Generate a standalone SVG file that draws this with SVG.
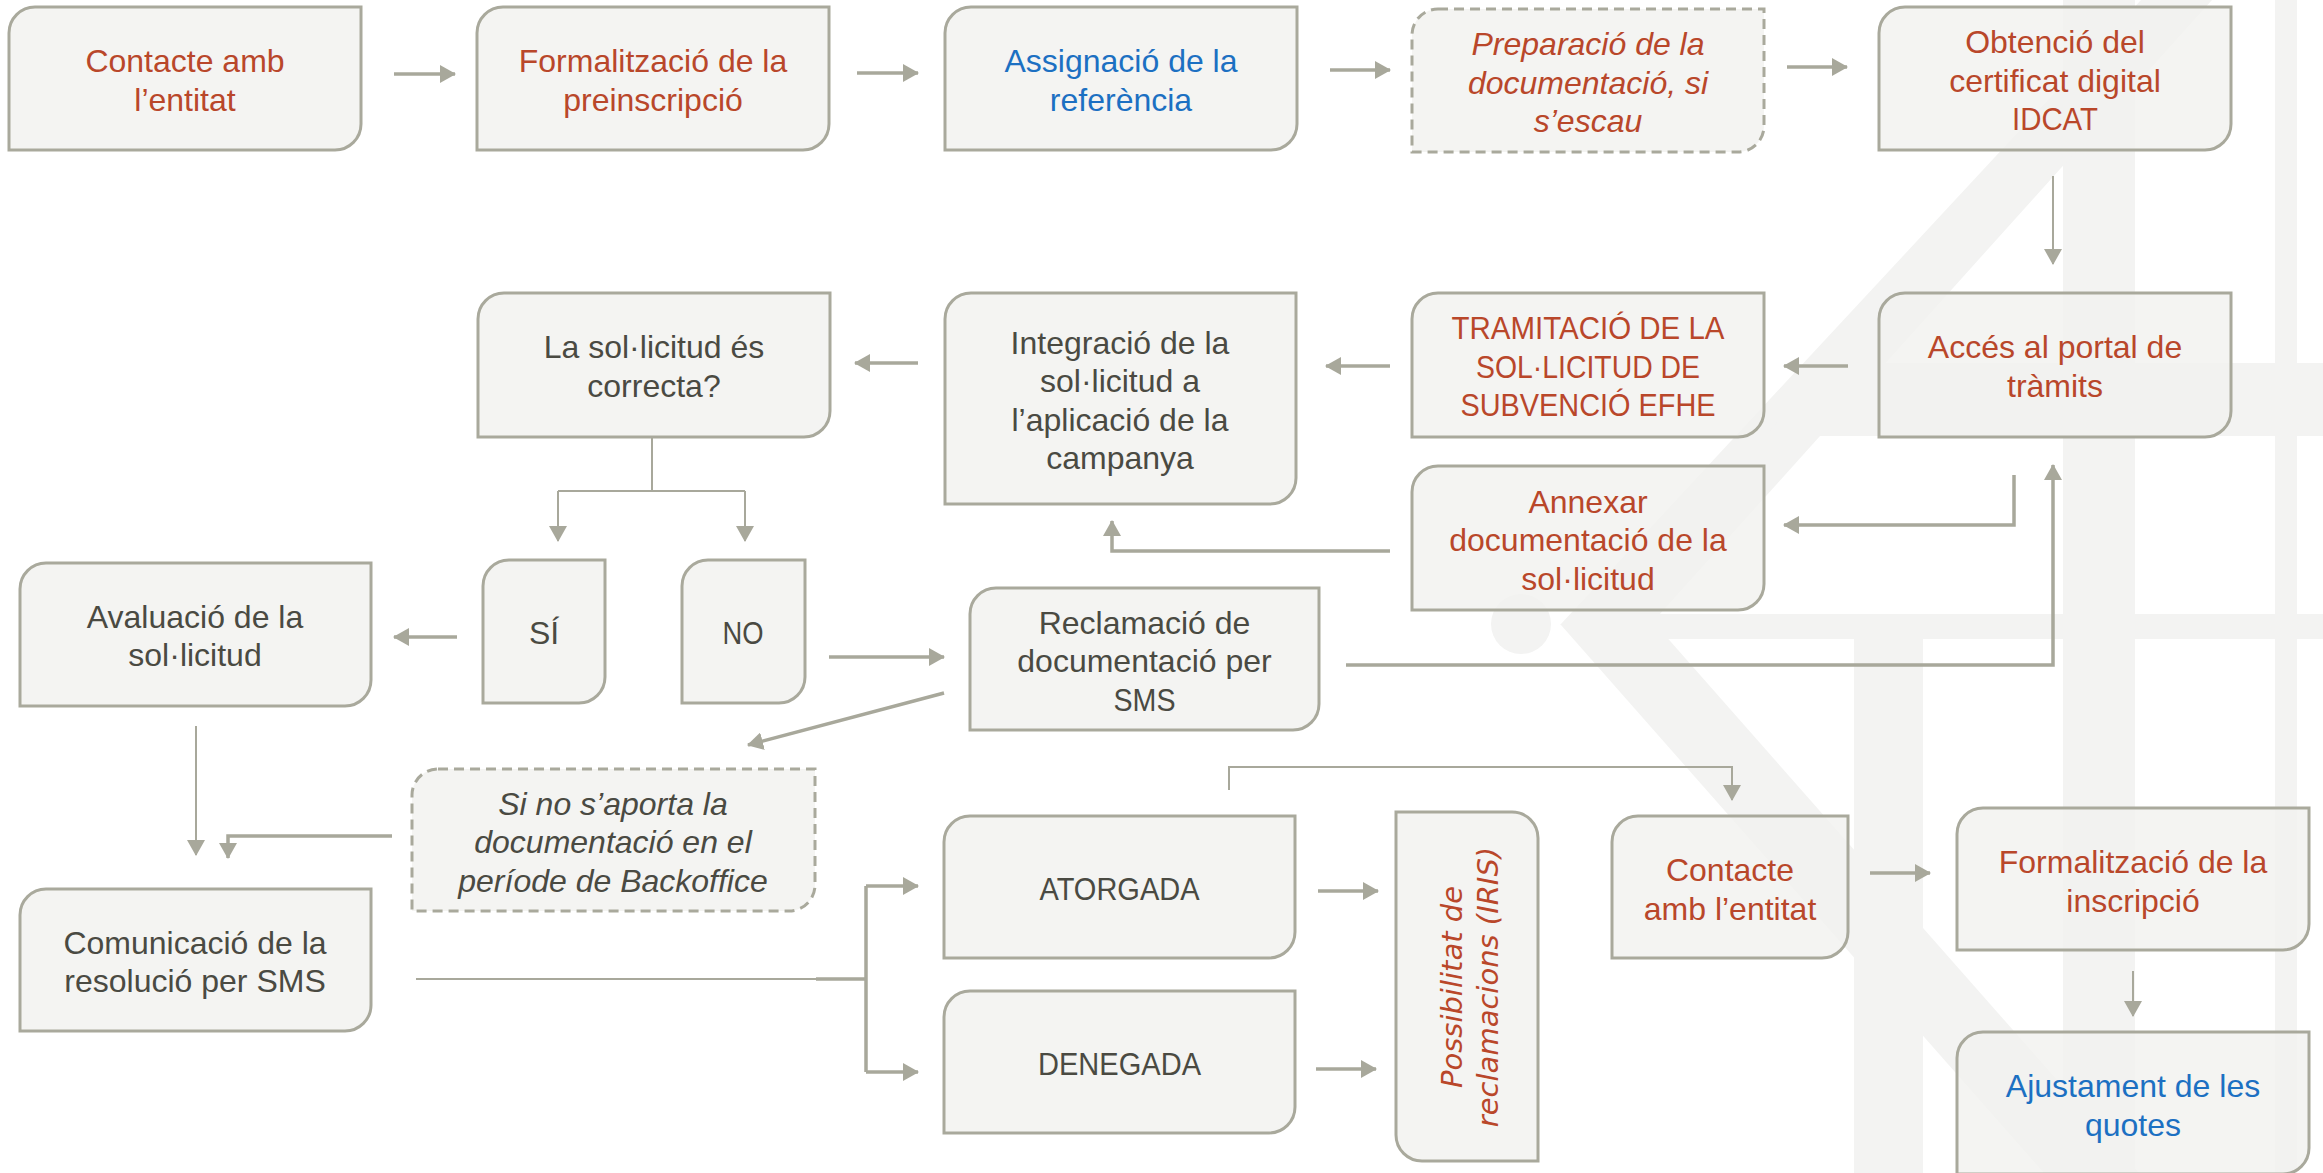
<svg xmlns="http://www.w3.org/2000/svg" width="2323" height="1173" viewBox="0 0 2323 1173">
<defs>
<style>
.bx{fill:#f2f2ef;fill-opacity:0.82;stroke:#a9a99c;stroke-width:3}
.dash{stroke-dasharray:10 6}
.t{font-family:"Liberation Sans",Arial,sans-serif;font-size:32px;text-anchor:middle}
.it{font-style:italic}
.r{fill:#b9472a}
.b{fill:#1c70c2}
.d{fill:#4a4a42}
.wm{fill:#f3f3f2}
.k{fill:none;stroke:#a8a89b;stroke-width:3.5;marker-end:url(#ah)}
.kn{fill:none;stroke:#a8a89b;stroke-width:3.5}
.s{fill:none;stroke:#a8a89b;stroke-width:2;marker-end:url(#ah)}
.sn{fill:none;stroke:#a8a89b;stroke-width:2}
</style>
<marker id="ah" markerUnits="userSpaceOnUse" viewBox="0 0 16 18" refX="15" refY="9" markerWidth="16" markerHeight="18" orient="auto">
<path d="M0,0 L16,9 L0,18 Z" fill="#a8a89b"/>
</marker>
</defs>
<rect width="2323" height="1173" fill="#ffffff"/>
<g id="watermark">
<rect class="wm" x="2275" y="0" width="22" height="1173"/>
<rect class="wm" x="2063" y="0" width="72" height="614"/>
<polygon class="wm" points="2141,0 2212,0 1650,625 1560,625"/>
<polygon class="wm" points="1561,625 1656,625 2139,1173 2044,1173"/>
<polygon class="wm" points="1830,363 2323,363 2323,436 1765,436"/>
<rect class="wm" x="1646" y="614" width="677" height="25"/>
<circle class="wm" cx="1521" cy="624" r="30"/>
<rect class="wm" x="1854" y="639" width="69" height="534"/>
<rect class="wm" x="2063" y="639" width="72" height="534"/>
</g>
<g id="connectors">
<path class="k" d="M394,74 H455"/>
<path class="k" d="M857,73 H918"/>
<path class="k" d="M1330,70 H1390"/>
<path class="k" d="M1787,67 H1847"/>
<path class="s" d="M2053,176 V264"/>
<path class="k" d="M1848,366 H1784"/>
<path class="k" d="M1390,366 H1326"/>
<path class="k" d="M918,363 H855"/>
<path class="k" d="M2014,475 V525 H1784"/>
<path class="k" d="M1390,551 H1112 V521"/>
<path class="sn" d="M652,437 V491 M558,491 H745"/>
<path class="s" d="M558,491 V541"/>
<path class="s" d="M745,491 V541"/>
<path class="k" d="M457,637 H394"/>
<path class="k" d="M829,657 H944"/>
<path class="k" d="M1346,665 H2053 V465"/>
<path class="k" d="M944,693 L748,745"/>
<path class="s" d="M196,726 V855"/>
<path class="k" d="M392,836 H228 V858"/>
<path class="sn" d="M416,979 H816"/>
<path class="kn" d="M816,979 H866 M866,886 V1072"/>
<path class="k" d="M866,886 H918"/>
<path class="k" d="M866,1072 H918"/>
<path class="k" d="M1318,891 H1378"/>
<path class="k" d="M1316,1069 H1376"/>
<path class="s" d="M1229,790 V767 H1732 V800"/>
<path class="k" d="M1870,873 H1930"/>
<path class="s" d="M2133,971 V1016"/>
</g>
<g id="n1"><path class="bx" d="M35,7 H361 V124 A26,26 0 0 1 335,150 H9 V33 A26,26 0 0 1 35,7 Z"/>
<text class="t r" x="185" y="72">Contacte amb</text><text class="t r" x="185" y="110.5">l’entitat</text></g>
<g id="n2"><path class="bx" d="M503,7 H829 V124 A26,26 0 0 1 803,150 H477 V33 A26,26 0 0 1 503,7 Z"/>
<text class="t r" x="653" y="72">Formalització de la</text><text class="t r" x="653" y="110.5">preinscripció</text></g>
<g id="n3"><path class="bx" d="M971,7 H1297 V124 A26,26 0 0 1 1271,150 H945 V33 A26,26 0 0 1 971,7 Z"/>
<text class="t b" x="1121" y="72">Assignació de la</text><text class="t b" x="1121" y="110.5">referència</text></g>
<g id="n4"><path class="bx dash" d="M1438,9 H1764 V126 A26,26 0 0 1 1738,152 H1412 V35 A26,26 0 0 1 1438,9 Z"/>
<text class="t r it" x="1588" y="55">Preparació de la</text><text class="t r it" x="1588" y="93.5">documentació, si</text><text class="t r it" x="1588" y="132">s’escau</text></g>
<g id="n5"><path class="bx" d="M1905,7 H2231 V124 A26,26 0 0 1 2205,150 H1879 V33 A26,26 0 0 1 1905,7 Z"/>
<text class="t r" x="2055" y="53">Obtenció del</text><text class="t r" x="2055" y="91.5">certificat digital</text><text class="t r" x="2055" y="130" textLength="86" lengthAdjust="spacingAndGlyphs">IDCAT</text></g>
<g id="n6"><path class="bx" d="M504,293 H830 V411 A26,26 0 0 1 804,437 H478 V319 A26,26 0 0 1 504,293 Z"/>
<text class="t d" x="654" y="358">La sol·licitud és</text><text class="t d" x="654" y="396.5">correcta?</text></g>
<g id="n7"><path class="bx" d="M971,293 H1296 V478 A26,26 0 0 1 1270,504 H945 V319 A26,26 0 0 1 971,293 Z"/>
<text class="t d" x="1120" y="353.5">Integració de la</text><text class="t d" x="1120" y="392">sol·licitud a</text><text class="t d" x="1120" y="430.5">l’aplicació de la</text><text class="t d" x="1120" y="469">campanya</text></g>
<g id="n8"><path class="bx" d="M1438,293 H1764 V411 A26,26 0 0 1 1738,437 H1412 V319 A26,26 0 0 1 1438,293 Z"/>
<text class="t r" x="1588" y="339" textLength="273" lengthAdjust="spacingAndGlyphs">TRAMITACIÓ DE LA</text><text class="t r" x="1588" y="377.5" textLength="224" lengthAdjust="spacingAndGlyphs">SOL·LICITUD DE</text><text class="t r" x="1588" y="416" textLength="255" lengthAdjust="spacingAndGlyphs">SUBVENCIÓ EFHE</text></g>
<g id="n9"><path class="bx" d="M1905,293 H2231 V411 A26,26 0 0 1 2205,437 H1879 V319 A26,26 0 0 1 1905,293 Z"/>
<text class="t r" x="2055" y="358">Accés al portal de</text><text class="t r" x="2055" y="396.5">tràmits</text></g>
<g id="n10"><path class="bx" d="M1438,466 H1764 V584 A26,26 0 0 1 1738,610 H1412 V492 A26,26 0 0 1 1438,466 Z"/>
<text class="t r" x="1588" y="512.5">Annexar</text><text class="t r" x="1588" y="551">documentació de la</text><text class="t r" x="1588" y="589.5">sol·licitud</text></g>
<g id="n11"><path class="bx" d="M509,560 H605 V677 A26,26 0 0 1 579,703 H483 V586 A26,26 0 0 1 509,560 Z"/>
<text class="t d" x="544" y="644">SÍ</text></g>
<g id="n12"><path class="bx" d="M708,560 H805 V677 A26,26 0 0 1 779,703 H682 V586 A26,26 0 0 1 708,560 Z"/>
<text class="t d" x="743" y="644" textLength="41" lengthAdjust="spacingAndGlyphs">NO</text></g>
<g id="n13"><path class="bx" d="M46,563 H371 V680 A26,26 0 0 1 345,706 H20 V589 A26,26 0 0 1 46,563 Z"/>
<text class="t d" x="195" y="627.5">Avaluació de la</text><text class="t d" x="195" y="666">sol·licitud</text></g>
<g id="n14"><path class="bx" d="M996,588 H1319 V704 A26,26 0 0 1 1293,730 H970 V614 A26,26 0 0 1 996,588 Z"/>
<text class="t d" x="1144.5" y="633.5">Reclamació de</text><text class="t d" x="1144.5" y="672">documentació per</text><text class="t d" x="1144.5" y="710.5" textLength="62" lengthAdjust="spacingAndGlyphs">SMS</text></g>
<g id="n15"><path class="bx dash" d="M438,769 H815 V885 A26,26 0 0 1 789,911 H412 V795 A26,26 0 0 1 438,769 Z"/>
<text class="t d it" x="613" y="814.5">Si no s’aporta la</text><text class="t d it" x="613" y="853">documentació en el</text><text class="t d it" x="613" y="891.5">període de Backoffice</text></g>
<g id="n16"><path class="bx" d="M46,889 H371 V1005 A26,26 0 0 1 345,1031 H20 V915 A26,26 0 0 1 46,889 Z"/>
<text class="t d" x="195" y="953.5">Comunicació de la</text><text class="t d" x="195" y="992">resolució per SMS</text></g>
<g id="n17"><path class="bx" d="M970,816 H1295 V932 A26,26 0 0 1 1269,958 H944 V842 A26,26 0 0 1 970,816 Z"/>
<text class="t d" x="1119.5" y="900" textLength="160" lengthAdjust="spacingAndGlyphs">ATORGADA</text></g>
<g id="n18"><path class="bx" d="M970,991 H1295 V1107 A26,26 0 0 1 1269,1133 H944 V1017 A26,26 0 0 1 970,991 Z"/>
<text class="t d" x="1119.5" y="1075" textLength="163" lengthAdjust="spacingAndGlyphs">DENEGADA</text></g>
<g id="n19"><path class="bx" d="M1396,812 H1512 A26,26 0 0 1 1538,838 V1161 H1422 A26,26 0 0 1 1396,1135 Z"/>
<g transform="rotate(-90 1467 987)"><text x="1467" y="982" font-family="'DejaVu Sans',Verdana,sans-serif" font-size="29" font-style="italic" text-anchor="middle" fill="#b9472a">Possibilitat de</text><text x="1467" y="1018" font-family="'DejaVu Sans',Verdana,sans-serif" font-size="29" font-style="italic" text-anchor="middle" fill="#b9472a">reclamacions (IRIS)</text></g></g>
<g id="n20"><path class="bx" d="M1638,816 H1848 V932 A26,26 0 0 1 1822,958 H1612 V842 A26,26 0 0 1 1638,816 Z"/>
<text class="t r" x="1730" y="881">Contacte</text><text class="t r" x="1730" y="919.5">amb l’entitat</text></g>
<g id="n21"><path class="bx" d="M1983,808 H2309 V924 A26,26 0 0 1 2283,950 H1957 V834 A26,26 0 0 1 1983,808 Z"/>
<text class="t r" x="2133" y="873">Formalització de la</text><text class="t r" x="2133" y="911.5">inscripció</text></g>
<g id="n22"><path class="bx" d="M1983,1032 H2309 V1148 A26,26 0 0 1 2283,1174 H1957 V1058 A26,26 0 0 1 1983,1032 Z"/>
<text class="t b" x="2133" y="1097">Ajustament de les</text><text class="t b" x="2133" y="1135.5">quotes</text></g>
</svg>
